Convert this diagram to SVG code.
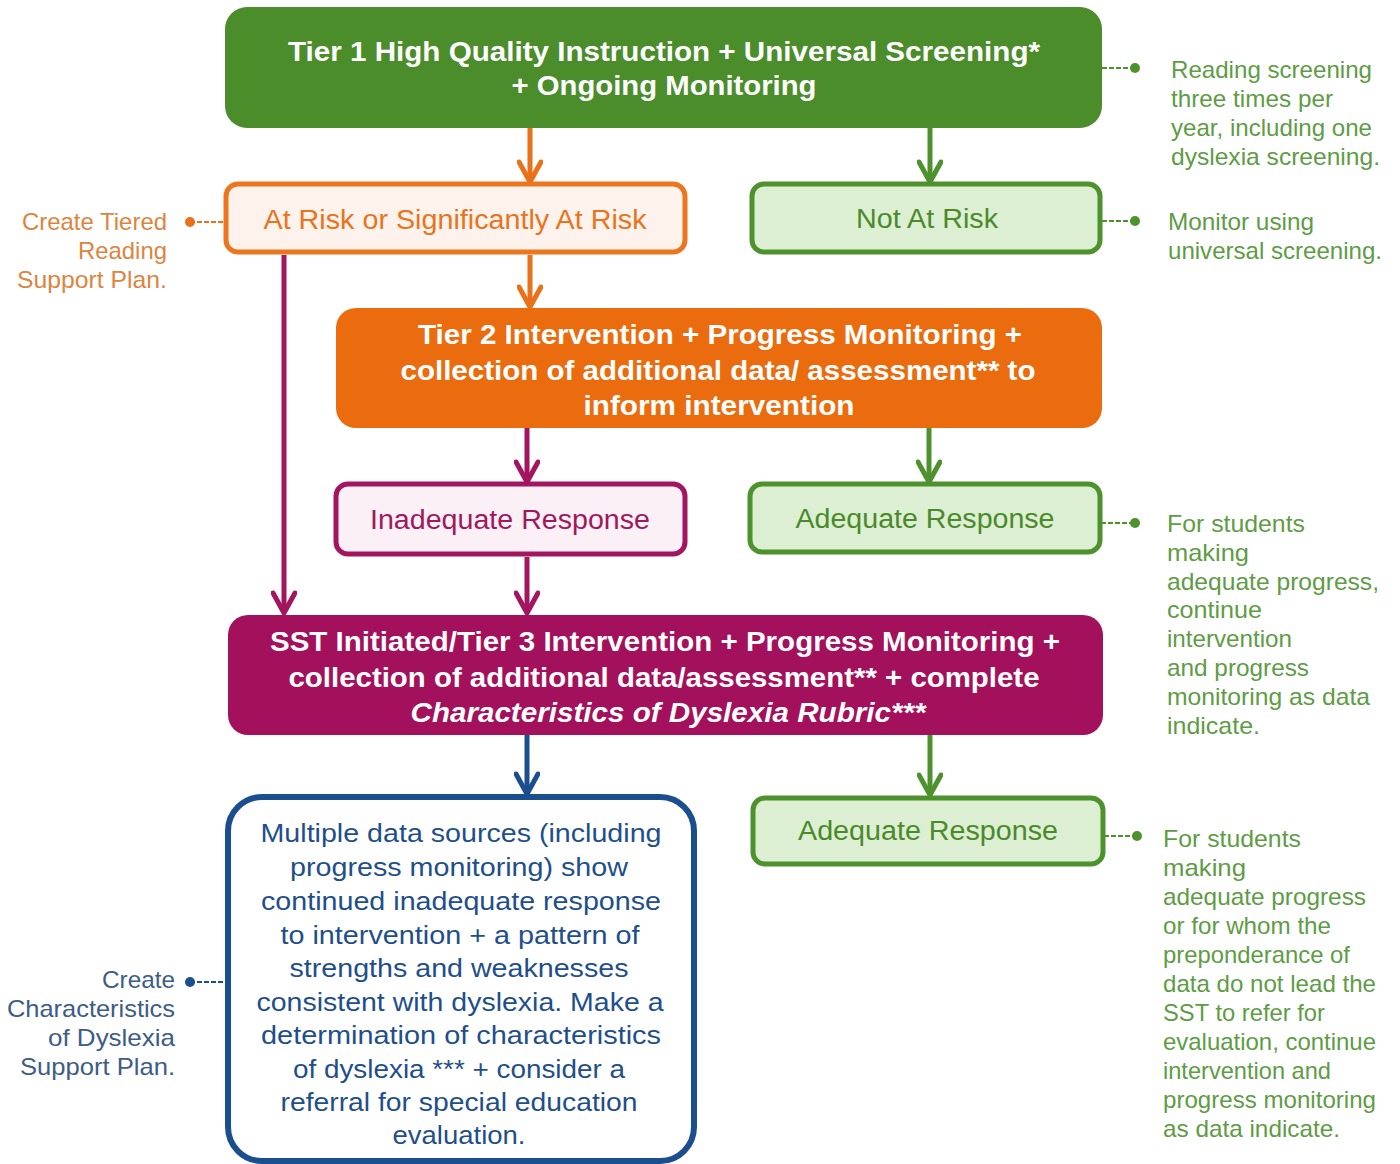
<svg xmlns="http://www.w3.org/2000/svg" width="1400" height="1164" viewBox="0 0 1400 1164">
<defs>
<style>
.t{font-family:"Liberation Sans",Arial,sans-serif;text-anchor:middle}
.w{fill:#ffffff;font-weight:bold;font-size:27px}
.n{font-family:"Liberation Sans",Arial,sans-serif;font-size:24px}
.ln{stroke-width:5;fill:none}
.dash{stroke-width:2;stroke-dasharray:5 2;fill:none}
</style>
<marker id="aO" viewBox="0 0 26 26" markerWidth="26" markerHeight="26" refX="23" refY="13" orient="auto" markerUnits="userSpaceOnUse"><path d="M3,2 L23,13 L3,24" fill="none" stroke="#e9711a" stroke-width="5" stroke-linejoin="round" stroke-linecap="round"/></marker>
<marker id="aG" viewBox="0 0 26 26" markerWidth="26" markerHeight="26" refX="23" refY="13" orient="auto" markerUnits="userSpaceOnUse"><path d="M3,2 L23,13 L3,24" fill="none" stroke="#4d922c" stroke-width="5" stroke-linejoin="round" stroke-linecap="round"/></marker>
<marker id="aP" viewBox="0 0 26 26" markerWidth="26" markerHeight="26" refX="23" refY="13" orient="auto" markerUnits="userSpaceOnUse"><path d="M3,2 L23,13 L3,24" fill="none" stroke="#a3155f" stroke-width="5" stroke-linejoin="round" stroke-linecap="round"/></marker>
<marker id="aB" viewBox="0 0 26 26" markerWidth="26" markerHeight="26" refX="23" refY="13" orient="auto" markerUnits="userSpaceOnUse"><path d="M3,2 L23,13 L3,24" fill="none" stroke="#1b4e8f" stroke-width="5" stroke-linejoin="round" stroke-linecap="round"/></marker>
</defs>
<rect width="1400" height="1164" fill="#ffffff"/>

<g id="connectors">
<line class="ln" x1="530" y1="128" x2="530" y2="182" stroke="#e9711a" marker-end="url(#aO)"/>
<line class="ln" x1="930" y1="128" x2="930" y2="182" stroke="#4d922c" marker-end="url(#aG)"/>
<line class="ln" x1="530" y1="255" x2="530" y2="307" stroke="#e9711a" marker-end="url(#aO)"/>
<line class="ln" x1="284" y1="255" x2="284" y2="613" stroke="#a3155f" marker-end="url(#aP)"/>
<line class="ln" x1="527" y1="428" x2="527" y2="482" stroke="#a3155f" marker-end="url(#aP)"/>
<line class="ln" x1="929" y1="428" x2="929" y2="482" stroke="#4d922c" marker-end="url(#aG)"/>
<line class="ln" x1="527" y1="557" x2="527" y2="613" stroke="#a3155f" marker-end="url(#aP)"/>
<line class="ln" x1="527" y1="735" x2="527" y2="794" stroke="#1b4e8f" marker-end="url(#aB)"/>
<line class="ln" x1="930" y1="735" x2="930" y2="795" stroke="#4d922c" marker-end="url(#aG)"/>
<line class="dash" x1="1102" y1="68" x2="1135" y2="68" stroke="#4d922c"/>
<circle cx="1135" cy="68" r="5" fill="#4d922c"/>
<line class="dash" x1="1102" y1="221" x2="1135" y2="221" stroke="#4d922c"/>
<circle cx="1135" cy="221" r="5" fill="#4d922c"/>
<line class="dash" x1="190" y1="222" x2="224" y2="222" stroke="#e9711a"/>
<circle cx="190" cy="222" r="5" fill="#e9711a"/>
<line class="dash" x1="1101" y1="523" x2="1135" y2="523" stroke="#4d922c"/>
<circle cx="1135" cy="523" r="5" fill="#4d922c"/>
<line class="dash" x1="1104" y1="836" x2="1137" y2="836" stroke="#4d922c"/>
<circle cx="1137" cy="836" r="5" fill="#4d922c"/>
<line class="dash" x1="190" y1="982" x2="226" y2="982" stroke="#1b4e8f"/>
<circle cx="190" cy="982" r="5" fill="#1b4e8f"/>
</g>

<g id="tier1">
<rect x="225" y="7" width="877" height="121" rx="22" fill="#4b8c2b"/>
<text class="t w" x="664" y="61" textLength="752" lengthAdjust="spacingAndGlyphs">Tier 1 High Quality Instruction  + Universal Screening*</text>
<text class="t w" x="664" y="95" textLength="305" lengthAdjust="spacingAndGlyphs">+ Ongoing Monitoring</text>
</g>

<g id="atrisk">
<rect x="226" y="184" width="459" height="68" rx="12" fill="#fdf3ec" stroke="#ec761f" stroke-width="5"/>
<text class="t" x="455" y="229" font-size="27" fill="#e8741e" textLength="383" lengthAdjust="spacingAndGlyphs">At Risk or Significantly At Risk</text>
</g>

<g id="notatrisk">
<rect x="752" y="184" width="348" height="68" rx="12" fill="#ddefd3" stroke="#4d922c" stroke-width="5"/>
<text class="t" x="927" y="228" font-size="27" fill="#4a8a2a" textLength="142" lengthAdjust="spacingAndGlyphs">Not At Risk</text>
</g>

<g id="tier2">
<rect x="336" y="308" width="766" height="120" rx="20" fill="#ea6c0f"/>
<text class="t w" x="720" y="344" textLength="604" lengthAdjust="spacingAndGlyphs">Tier 2 Intervention + Progress Monitoring +</text>
<text class="t w" x="718" y="380" textLength="635" lengthAdjust="spacingAndGlyphs">collection of additional data/ assessment** to</text>
<text class="t w" x="719" y="415" textLength="271" lengthAdjust="spacingAndGlyphs">inform intervention</text>
</g>

<g id="inadequate">
<rect x="336" y="484" width="349" height="70" rx="12" fill="#fbf0f5" stroke="#a3155f" stroke-width="5"/>
<text class="t" x="510" y="529" font-size="27" fill="#a0185e" textLength="280" lengthAdjust="spacingAndGlyphs">Inadequate  Response</text>
</g>

<g id="adequate1">
<rect x="750" y="484" width="350" height="68" rx="12" fill="#ddefd3" stroke="#4d922c" stroke-width="5"/>
<text class="t" x="925" y="528" font-size="27" fill="#4a8a2a" textLength="259" lengthAdjust="spacingAndGlyphs">Adequate  Response</text>
</g>

<g id="sst">
<rect x="228" y="615" width="875" height="120" rx="20" fill="#a3105b"/>
<text class="t w" x="665" y="651" textLength="790" lengthAdjust="spacingAndGlyphs">SST Initiated/Tier 3 Intervention + Progress Monitoring +</text>
<text class="t w" x="664" y="687" textLength="751" lengthAdjust="spacingAndGlyphs">collection of additional data/assessment**  + complete</text>
<text class="t w" x="668" y="722" font-style="italic" textLength="515" lengthAdjust="spacingAndGlyphs">Characteristics of Dyslexia Rubric***</text>
</g>

<g id="multiple">
<rect x="228" y="797" width="466" height="364" rx="34" fill="#ffffff" stroke="#1b4e8f" stroke-width="6"/>
<g class="t" font-size="26" fill="#1f4f8a">
<text x="461" y="842" textLength="401" lengthAdjust="spacingAndGlyphs">Multiple  data sources (including</text>
<text x="459" y="876" textLength="338" lengthAdjust="spacingAndGlyphs">progress monitoring) show</text>
<text x="461" y="910" textLength="400" lengthAdjust="spacingAndGlyphs">continued inadequate response</text>
<text x="460" y="944" textLength="359" lengthAdjust="spacingAndGlyphs">to intervention + a pattern of</text>
<text x="459" y="977" textLength="339" lengthAdjust="spacingAndGlyphs">strengths and weaknesses</text>
<text x="460" y="1011" textLength="407" lengthAdjust="spacingAndGlyphs">consistent with dyslexia. Make a</text>
<text x="461" y="1044" textLength="400" lengthAdjust="spacingAndGlyphs">determination of characteristics</text>
<text x="459" y="1078" textLength="332" lengthAdjust="spacingAndGlyphs">of dyslexia *** + consider a</text>
<text x="459" y="1111" textLength="357" lengthAdjust="spacingAndGlyphs">referral for special education</text>
<text x="459" y="1144" textLength="133" lengthAdjust="spacingAndGlyphs">evaluation.</text>
</g>
</g>

<g id="adequate2">
<rect x="753" y="798" width="350" height="66" rx="12" fill="#ddefd3" stroke="#4d922c" stroke-width="5"/>
<text class="t" x="928" y="840" font-size="27" fill="#4a8a2a" textLength="260" lengthAdjust="spacingAndGlyphs">Adequate  Response</text>
</g>

<g id="note-tier1" class="n" fill="#5e9c45">
<text x="1171" y="78" textLength="201" lengthAdjust="spacingAndGlyphs">Reading screening</text>
<text x="1171" y="107" textLength="162" lengthAdjust="spacingAndGlyphs">three times per</text>
<text x="1171" y="136" textLength="201" lengthAdjust="spacingAndGlyphs">year, including one</text>
<text x="1171" y="165" textLength="209" lengthAdjust="spacingAndGlyphs">dyslexia screening.</text>
</g>

<g id="note-notatrisk" class="n" fill="#5e9c45">
<text x="1168" y="230" textLength="146" lengthAdjust="spacingAndGlyphs">Monitor using</text>
<text x="1168" y="259" textLength="214" lengthAdjust="spacingAndGlyphs">universal screening.</text>
</g>

<g id="note-atrisk" class="n" fill="#dd8540" text-anchor="end">
<text x="167" y="230" textLength="145" lengthAdjust="spacingAndGlyphs">Create Tiered</text>
<text x="167" y="259" textLength="89" lengthAdjust="spacingAndGlyphs">Reading</text>
<text x="167" y="288" textLength="150" lengthAdjust="spacingAndGlyphs">Support Plan.</text>
</g>

<g id="note-adequate1" class="n" fill="#5e9c45">
<text x="1167" y="532" textLength="138" lengthAdjust="spacingAndGlyphs">For students</text>
<text x="1167" y="561" textLength="82" lengthAdjust="spacingAndGlyphs">making</text>
<text x="1167" y="590" textLength="212" lengthAdjust="spacingAndGlyphs">adequate progress,</text>
<text x="1167" y="618" textLength="95" lengthAdjust="spacingAndGlyphs">continue</text>
<text x="1167" y="647" textLength="125" lengthAdjust="spacingAndGlyphs">intervention</text>
<text x="1167" y="676" textLength="142" lengthAdjust="spacingAndGlyphs">and progress</text>
<text x="1167" y="705" textLength="203" lengthAdjust="spacingAndGlyphs">monitoring as data</text>
<text x="1167" y="734" textLength="93" lengthAdjust="spacingAndGlyphs">indicate.</text>
</g>

<g id="note-adequate2" class="n" fill="#5e9c45">
<text x="1163" y="847" textLength="138" lengthAdjust="spacingAndGlyphs">For students</text>
<text x="1163" y="876" textLength="83" lengthAdjust="spacingAndGlyphs">making</text>
<text x="1163" y="905" textLength="203" lengthAdjust="spacingAndGlyphs">adequate progress</text>
<text x="1163" y="934" textLength="168" lengthAdjust="spacingAndGlyphs">or for whom the</text>
<text x="1163" y="963" textLength="187" lengthAdjust="spacingAndGlyphs">preponderance of</text>
<text x="1163" y="992" textLength="213" lengthAdjust="spacingAndGlyphs">data do not lead the</text>
<text x="1163" y="1021" textLength="162" lengthAdjust="spacingAndGlyphs">SST to refer for</text>
<text x="1163" y="1050" textLength="213" lengthAdjust="spacingAndGlyphs">evaluation, continue</text>
<text x="1163" y="1079" textLength="168" lengthAdjust="spacingAndGlyphs">intervention and</text>
<text x="1163" y="1108" textLength="213" lengthAdjust="spacingAndGlyphs">progress monitoring</text>
<text x="1163" y="1137" textLength="177" lengthAdjust="spacingAndGlyphs">as data indicate.</text>
</g>

<g id="note-multiple" class="n" fill="#3d5d85" text-anchor="end">
<text x="175" y="988" textLength="73" lengthAdjust="spacingAndGlyphs">Create</text>
<text x="175" y="1017" textLength="168" lengthAdjust="spacingAndGlyphs">Characteristics</text>
<text x="175" y="1046" textLength="127" lengthAdjust="spacingAndGlyphs">of Dyslexia</text>
<text x="175" y="1075" textLength="155" lengthAdjust="spacingAndGlyphs">Support Plan.</text>
</g>
</svg>
